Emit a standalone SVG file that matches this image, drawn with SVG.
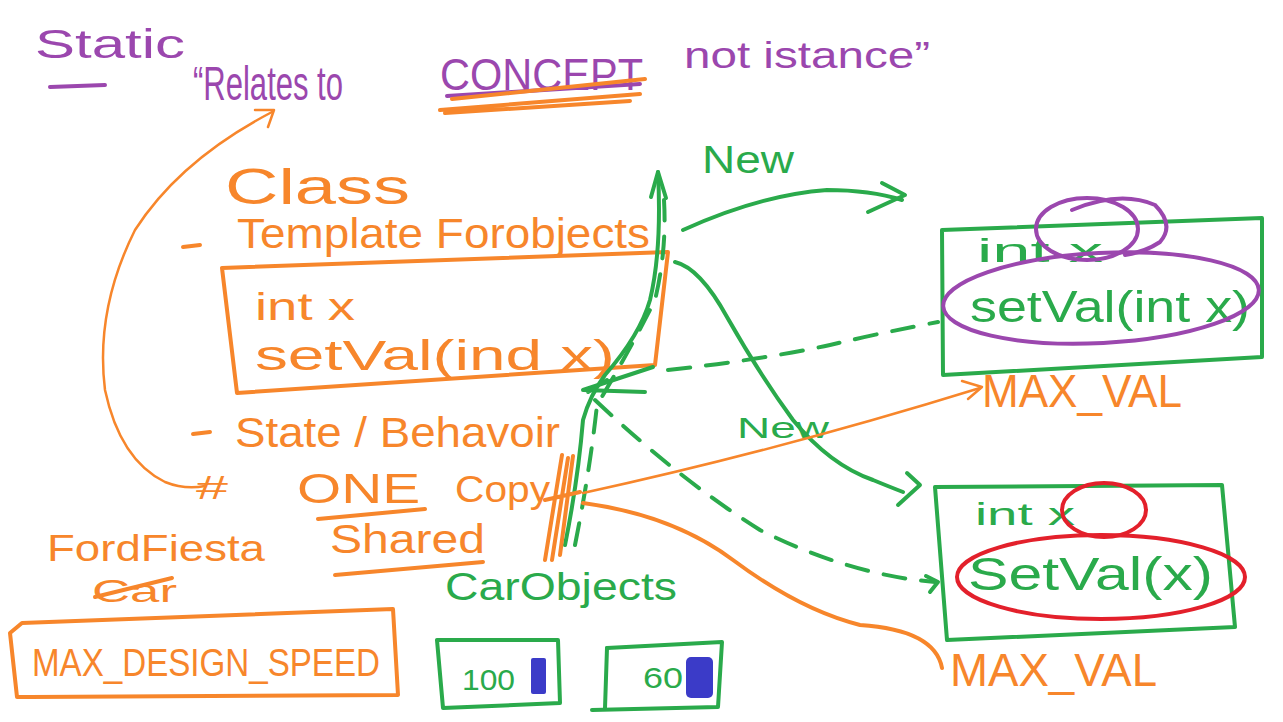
<svg xmlns="http://www.w3.org/2000/svg" width="1283" height="722" viewBox="0 0 1283 722">
<style>
text{font-family:"Liberation Sans","DejaVu Sans",sans-serif;}
.o{fill:#F7862B}.p{fill:#9B47AE}.g{fill:#2AAA4B}
.so{fill:none;stroke:#F7862B;stroke-width:4;stroke-linecap:round;stroke-linejoin:round}
.sot{fill:none;stroke:#F7862B;stroke-width:2.5;stroke-linecap:round;stroke-linejoin:round}
.sp{fill:none;stroke:#9B47AE;stroke-width:4;stroke-linecap:round}
.sg{fill:none;stroke:#2AAA4B;stroke-width:4;stroke-linecap:round;stroke-linejoin:round}
.sgd{fill:none;stroke:#2AAA4B;stroke-width:4;stroke-linecap:round;stroke-dasharray:22 16}
.sr{fill:none;stroke:#E3202B;stroke-width:4}
</style>
<rect width="1283" height="722" fill="#fff"/>

<g id="title">
<text class="p" x="35" y="58" font-size="40" textLength="150" lengthAdjust="spacingAndGlyphs">Static</text>
<path class="sp" d="M50 87 L105 85"/>
<text class="p" x="193" y="100" font-size="48" textLength="150" lengthAdjust="spacingAndGlyphs">“Relates to</text>
<text class="p" x="440" y="90" font-size="44" textLength="203" lengthAdjust="spacingAndGlyphs">CONCEPT</text>
<text class="p" x="684" y="68" font-size="36" textLength="246" lengthAdjust="spacingAndGlyphs">not istance”</text>
<path class="sp" d="M447 96 L640 84"/>
<path class="so" d="M452 99 L645 79 M440 110 L640 94 M445 113 L630 101"/>
</g>

<g id="class-notes">
<text class="o" x="225" y="204" font-size="50" textLength="185" lengthAdjust="spacingAndGlyphs">Class</text>
<path class="so" d="M183 247 L200 245"/>
<text class="o" x="237" y="248" font-size="42" textLength="413" lengthAdjust="spacingAndGlyphs">Template Forobjects</text>
<path class="so" d="M193 434 L210 432"/>
<text class="o" x="235" y="447" font-size="42" textLength="325" lengthAdjust="spacingAndGlyphs">State / Behavoir</text>
<text class="o" x="196" y="499" font-size="34" textLength="32" lengthAdjust="spacingAndGlyphs">#</text>
<text class="o" x="297" y="503" font-size="42" textLength="123" lengthAdjust="spacingAndGlyphs">ONE</text>
<path class="so" d="M318 519 L425 509"/>
<text class="o" x="455" y="502" font-size="36" textLength="95" lengthAdjust="spacingAndGlyphs">Copy</text>
<text class="o" x="330" y="553" font-size="40" textLength="155" lengthAdjust="spacingAndGlyphs">Shared</text>
<path class="so" d="M335 575 L483 562"/>
</g>

<g id="class-box">
<path class="so" d="M222 268 L668 252 L655 365 L237 393 Z"/>
<text class="o" x="255" y="320" font-size="38" textLength="100" lengthAdjust="spacingAndGlyphs">int x</text>
<text class="o" x="255" y="370" font-size="42" textLength="360" lengthAdjust="spacingAndGlyphs">setVal(ind x)</text>
</g>

<g id="ford-fiesta">
<text class="o" x="47" y="561" font-size="36" textLength="218" lengthAdjust="spacingAndGlyphs">FordFiesta</text>
<text class="o" x="92" y="602" font-size="32" textLength="85" lengthAdjust="spacingAndGlyphs">Car</text>
<path class="so" d="M95 597 L172 578"/>
</g>

<g id="max-design-speed">
<path class="so" d="M22 623 L393 609 L398 695 L30 697 L17 697 L10 633 Z"/>
<text class="o" x="32" y="676" font-size="38" textLength="348" lengthAdjust="spacingAndGlyphs">MAX_DESIGN_SPEED</text>
</g>

<g id="car-objects">
<text class="g" x="445" y="600" font-size="38" textLength="232" lengthAdjust="spacingAndGlyphs">CarObjects</text>
</g>

<g id="obj-100">
<path class="sg" d="M437 640 L558 640 L560 703 L443 708 Z"/>
<text class="g" x="462" y="690" font-size="30" textLength="53" lengthAdjust="spacingAndGlyphs">100</text>
<rect x="531" y="658" width="15" height="36" rx="2" fill="#3B3BC8"/>
</g>

<g id="obj-60">
<path class="sg" d="M607 648 L722 642 L718 707 L592 710"/>
<path class="sg" d="M607 648 L605 708"/>
<text class="g" x="643" y="688" font-size="30" textLength="40" lengthAdjust="spacingAndGlyphs">60</text>
<rect x="686" y="657" width="27" height="41" rx="5" fill="#3B3BC8"/>
</g>

<g id="object-1">
<path class="sg" d="M942 230 L1262 218 L1262 357 L943 375 Z"/>
<text class="g" x="977" y="262" font-size="34" textLength="126" lengthAdjust="spacingAndGlyphs">int x</text>
<text class="g" x="970" y="322" font-size="44" textLength="280" lengthAdjust="spacingAndGlyphs">setVal(int x)</text>
<ellipse class="sp" cx="1087" cy="229" rx="51" ry="31"/>
<path class="sp" d="M1072 210 Q1120 190 1155 205 Q1175 225 1160 242 Q1145 252 1125 255"/>
<ellipse class="sp" cx="1101" cy="298" rx="158" ry="45" transform="rotate(-3 1101 298)"/>
<text class="o" x="982" y="407" font-size="46" textLength="200" lengthAdjust="spacingAndGlyphs">MAX_VAL</text>
</g>

<g id="object-2">
<path class="sg" d="M935 487 L1222 485 L1235 627 L947 640 Z"/>
<text class="g" x="975" y="525" font-size="32" textLength="100" lengthAdjust="spacingAndGlyphs">int x</text>
<text class="g" x="968" y="590" font-size="46" textLength="245" lengthAdjust="spacingAndGlyphs">SetVal(x)</text>
<ellipse class="sr" cx="1104" cy="510" rx="42" ry="27"/>
<ellipse class="sr" cx="1101" cy="577" rx="144" ry="42"/>
<text class="o" x="950" y="686" font-size="46" textLength="207" lengthAdjust="spacingAndGlyphs">MAX_VAL</text>
</g>

<g id="connectors">
<path class="sot" d="M272 112 Q180 160 135 230 Q95 310 105 390 Q120 460 165 482 Q185 490 205 486"/>
<path class="sot" d="M255 110 L274 110 L268 127"/>
<path class="sg" d="M565 545 Q578 480 583 420 Q590 395 605 375 Q640 335 650 300 Q662 250 658 172"/>
<path class="sgd" d="M575 545 Q590 470 597 405 Q630 350 655 300 Q667 250 664 200"/>
<path class="sg" d="M651 197 L658 172 L666 198"/>
<path class="sg" d="M583 390 L653 367 M583 390 L645 392 M588 392 L607 380"/>
<text class="g" x="702" y="173" font-size="38" textLength="92" lengthAdjust="spacingAndGlyphs">New</text>
<path class="sg" d="M683 230 Q760 195 827 190 Q870 190 902 200"/>
<path class="sg" d="M882 183 L905 195 L868 212"/>
<path class="sg" d="M675 262 Q700 268 727 317 Q760 375 793 420 Q830 465 873 480 Q890 487 903 492"/>
<path class="sg" d="M907 473 L920 485 L898 505"/>
<text class="g" x="737" y="438" font-size="30" textLength="92" lengthAdjust="spacingAndGlyphs">New</text>
<path class="sgd" d="M668 370 Q760 360 830 345 Q880 333 938 322"/>
<path class="sgd" d="M595 400 Q680 480 760 530 Q850 575 935 582"/>
<path class="sg" d="M926 576 L938 582 L930 592"/>
<path class="sot" d="M583 493 Q780 450 980 388"/>
<path class="sot" d="M962 381 L982 387 L968 399"/>
<path class="so" d="M583 503 Q673 515 733 560 Q800 610 860 625 Q935 630 942 668"/>
<path class="so" d="M562 455 L545 560 M568 458 L552 560 M573 456 L560 555 M545 500 L580 492"/>
</g>
</svg>
